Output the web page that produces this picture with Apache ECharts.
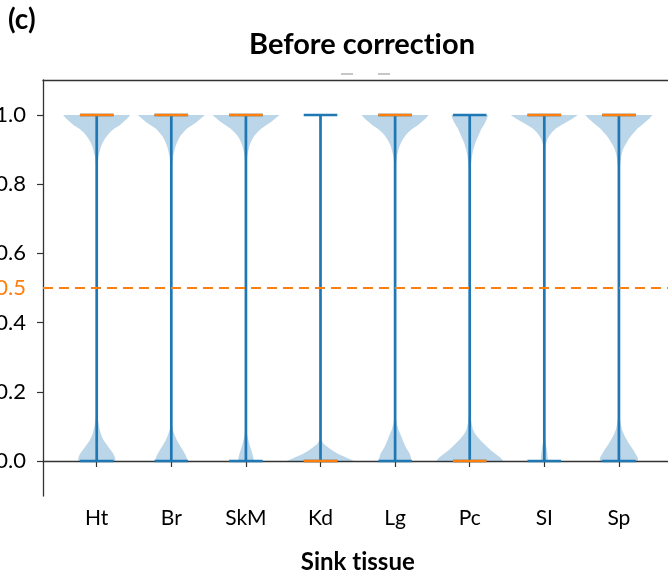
<!DOCTYPE html>
<html>
<head>
<meta charset="utf-8">
<script src="https://cdn.jsdelivr.net/npm/echarts@6/dist/echarts.min.js"></script>
<style>
  html, body { margin: 0; padding: 0; background: #ffffff; }
  #chart { width: 668px; height: 579px; }
</style>
</head>
<body>
<div id="chart"></div>
<script>
// Sink tissues on the x axis
const tissues = ['Ht', 'Br', 'SkM', 'Kd', 'Lg', 'Pc', 'SI', 'Sp'];
const yTicks = [0, 0.2, 0.4, 0.6, 0.8, 1.0];
const threshold = 0.5;

// Sample range and median of each tissue
const sampleMin = [0, 0, 0, 0, 0, 0, 0, 0];
const sampleMax = [1, 1, 1, 1, 1, 1, 1, 1];
const medians   = [1, 1, 1, 0, 1, 0, 1, 1];

// Kernel density estimates, evaluated near the upper end (y -> 1)
const upperLevels = [1.0, 0.99, 0.98, 0.97, 0.96, 0.95, 0.94, 0.93, 0.92, 0.91, 0.90, 0.89, 0.88, 0.86, 0.84, 0.80];
const upperHt  = [34, 31, 27, 23, 17.5, 13.5, 10.5, 8, 6, 4.5, 3.5, 2.7, 1.7, 1.0, 0.6, 0];
const upperBr  = [33, 29, 25, 20, 15, 12, 9, 7, 5.5, 4.2, 3.3, 2.5, 1.6, 0.9, 0.5, 0];
const upperSkM = [32, 28, 24, 19, 14.5, 11, 8, 6, 4.5, 3.3, 2.5, 1.8, 1.2, 0.7, 0.4, 0];
const upperKd  = [1.2, 1.0, 0.7, 0.5, 0.3, 0.2, 0.1, 0, 0, 0, 0, 0, 0, 0, 0, 0];
const upperLg  = [33, 30, 26, 22, 17, 13, 10, 7.7, 5.8, 4.3, 3.3, 2.5, 1.7, 1.0, 0.6, 0];
const upperPc  = [18, 17, 15.5, 13.5, 11.5, 10, 8.5, 7, 5.5, 4.5, 3.5, 2.8, 2.2, 1.3, 0.7, 0];
const upperSI  = [33, 28, 22, 16, 11, 7.5, 5, 3, 1.8, 1.1, 0.7, 0.5, 0.3, 0.2, 0.1, 0];
const upperSp  = [33, 30, 26, 22, 18, 15, 12, 9.5, 7.5, 5.5, 4, 3, 2.2, 1.3, 0.7, 0];

// ... and near the lower end (y -> 0)
const lowerLevels = [0, 0.01, 0.02, 0.03, 0.04, 0.05, 0.06, 0.07, 0.08, 0.09, 0.10, 0.11, 0.12, 0.14, 0.16, 0.20];
const lowerHt  = [19, 18.5, 17, 14.5, 12, 9.5, 7, 5.3, 4, 3, 2.3, 1.8, 1.2, 0.5, 0.2, 0];
const lowerBr  = [16, 15, 13.5, 11.5, 9.5, 7.5, 5.5, 4, 2.7, 1.6, 1.0, 0.6, 0.4, 0.2, 0.1, 0];
const lowerSkM = [7.5, 7, 6.2, 5.2, 4.2, 3.2, 2.4, 1.6, 1.0, 0.6, 0.35, 0.2, 0.1, 0, 0, 0];
const lowerKd  = [34, 26, 18, 12, 7.5, 3, 1.2, 0.6, 0.3, 0.1, 0, 0, 0, 0, 0, 0];
const lowerLg  = [16, 15.5, 14.5, 12.5, 10.5, 9, 7.5, 6.2, 4.8, 3.3, 2.4, 1.5, 0.9, 0.4, 0.15, 0];
const lowerPc  = [33, 30, 25.5, 21, 17.5, 14, 10.5, 7.5, 5, 3.3, 2.4, 1.7, 1.3, 0.8, 0.4, 0];
const lowerSI  = [3.5, 3.3, 3, 2.6, 2.1, 1.5, 1.0, 0.6, 0.3, 0, 0, 0, 0, 0, 0, 0];
const lowerSp  = [19, 18.5, 16.5, 14.5, 12.3, 10, 8, 6, 4.5, 3, 2.3, 1.6, 1.1, 0.5, 0.2, 0];

const upperDensity = [upperHt, upperBr, upperSkM, upperKd, upperLg, upperPc, upperSI, upperSp];
const lowerDensity = [lowerHt, lowerBr, lowerSkM, lowerKd, lowerLg, lowerPc, lowerSI, lowerSp];

// Violins sit at x = 1..n, each with a full width of 0.9
const positions = tissues.map((t, i) => i + 1);
const violinWidth = 0.9;
const xPad = 0.72;
const pxPerUnit = 74.6;

const BLUE = '#1f77b4';
const ORANGE = '#ff7f0e';
const BODY = 'rgba(31,119,180,0.3)';
const FONT = 'Lato';
const STROKE = 2.7;
// zero-width non-joiner keeps Lato from fusing "ti" into a ligature
const ZWNJ = '\u200C';

const chart = echarts.init(document.getElementById('chart'), null, { renderer: 'canvas' });

function lobe(api, pos, levels, dens, peak) {
  const half = violinWidth / 2;
  const left = [], right = [];
  for (let k = 0; k < levels.length; k++) {
    const w = half * dens[k] / peak;
    left.push(api.coord([pos - w, levels[k]]));
    right.push(api.coord([pos + w, levels[k]]));
  }
  return {
    type: 'polygon',
    shape: { points: left.concat(right.reverse()) },
    style: { fill: BODY, stroke: null }
  };
}

function renderBody(params, api) {
  const i = params.dataIndex;
  const pos = api.value(0);
  const peak = Math.max(Math.max(...upperDensity[i]), Math.max(...lowerDensity[i]));
  return {
    type: 'group',
    children: [
      lobe(api, pos, upperLevels, upperDensity[i], peak),
      lobe(api, pos, lowerLevels, lowerDensity[i], peak)
    ]
  };
}

function renderStems(params, api) {
  const i = params.dataIndex;
  const pos = api.value(0);
  const cap = violinWidth / 4;
  const seg = (y, color) => {
    const a = api.coord([pos - cap, y]);
    const b = api.coord([pos + cap, y]);
    return { type: 'line', shape: { x1: a[0], y1: a[1], x2: b[0], y2: b[1] },
             style: { stroke: color, lineWidth: STROKE } };
  };
  const top = api.coord([pos, sampleMax[i]]);
  const bot = api.coord([pos, sampleMin[i]]);
  return {
    type: 'group',
    children: [
      { type: 'line', shape: { x1: top[0], y1: top[1], x2: bot[0], y2: bot[1] },
        style: { stroke: BLUE, lineWidth: STROKE } },
      seg(sampleMax[i], BLUE),
      seg(sampleMin[i], BLUE),
      seg(medians[i], ORANGE)
    ]
  };
}

const xMin = positions[0] - xPad;
const xMax = positions[positions.length - 1] + xPad;
const yMin = -0.1012, yMax = 1.1012;

const option = {
  animation: false,
  backgroundColor: '#ffffff',
  textStyle: { fontFamily: FONT },
  grid: {
    left: 43, top: 80, height: 416, width: (xMax - xMin) * pxPerUnit,
    containLabel: false, outerBoundsMode: 'none'
  },
  xAxis: [
    {
      type: 'value', min: xMin, max: xMax, position: 'bottom',
      axisLine: { show: true, lineStyle: { color: '#333333', width: 1.3 } },
      axisTick: { show: true, customValues: positions, length: 6, lineStyle: { color: '#333333', width: 1.2 } },
      axisLabel: { customValues: positions, formatter: v => tissues[Math.round(v) - 1],
                   color: '#000000', fontSize: 21, fontFamily: FONT, margin: 12 },
      splitLine: { show: false },
      name: 'Sink t' + ZWNJ + 'issue', nameLocation: 'middle', nameGap: 54,
      nameTextStyle: { fontSize: 24, fontWeight: 'bold', color: '#000000', fontFamily: FONT }
    },
    {
      type: 'value', min: xMin, max: xMax, position: 'top',
      axisLine: { show: true, onZero: false, lineStyle: { color: '#333333', width: 1.3 } },
      axisTick: { show: false }, axisLabel: { show: false }, splitLine: { show: false }
    }
  ],
  yAxis: {
    type: 'value', min: yMin, max: yMax,
    axisLine: { show: true, onZero: false, lineStyle: { color: '#333333', width: 1.3 } },
    axisTick: { show: true, customValues: yTicks, length: 6, lineStyle: { color: '#333333', width: 1.2 } },
    axisLabel: {
      customValues: yTicks.concat([threshold]),
      formatter: v => Math.abs(v - threshold) < 1e-9 ? '{hl|' + v.toFixed(1) + '}' : v.toFixed(1),
      color: '#000000', fontSize: 22, fontFamily: FONT, margin: 17,
      rich: { hl: { color: ORANGE, fontSize: 22, fontFamily: FONT } }
    },
    splitLine: { show: false }
  },
  graphic: [
    { type: 'text', left: 8, top: 6,
      style: { text: '(c)', font: 'bold 28px Lato', fill: '#000000' } },
    { type: 'text', x: 362, y: 45,
      style: { text: 'Before correct' + ZWNJ + 'ion', font: 'bold 29px Lato', fill: '#000000',
               align: 'center', verticalAlign: 'middle' } },
    { type: 'line', shape: { x1: 341, y1: 74, x2: 353, y2: 74 }, style: { stroke: '#b3b3b3', lineWidth: 1.5 } },
    { type: 'line', shape: { x1: 378, y1: 74, x2: 390, y2: 74 }, style: { stroke: '#b3b3b3', lineWidth: 1.5 } }
  ],
  series: [
    {
      type: 'custom', name: 'density', renderItem: renderBody, clip: true,
      data: positions.map(p => [p]), z: 2,
      markLine: {
        silent: true, symbol: 'none', label: { show: false },
        lineStyle: { color: ORANGE, type: [10, 6], width: 2 },
        data: [{ yAxis: threshold }]
      }
    },
    {
      type: 'custom', name: 'range', renderItem: renderStems,
      data: positions.map(p => [p]), z: 3
    }
  ]
};

chart.setOption(option);
</script>
</body>
</html>
